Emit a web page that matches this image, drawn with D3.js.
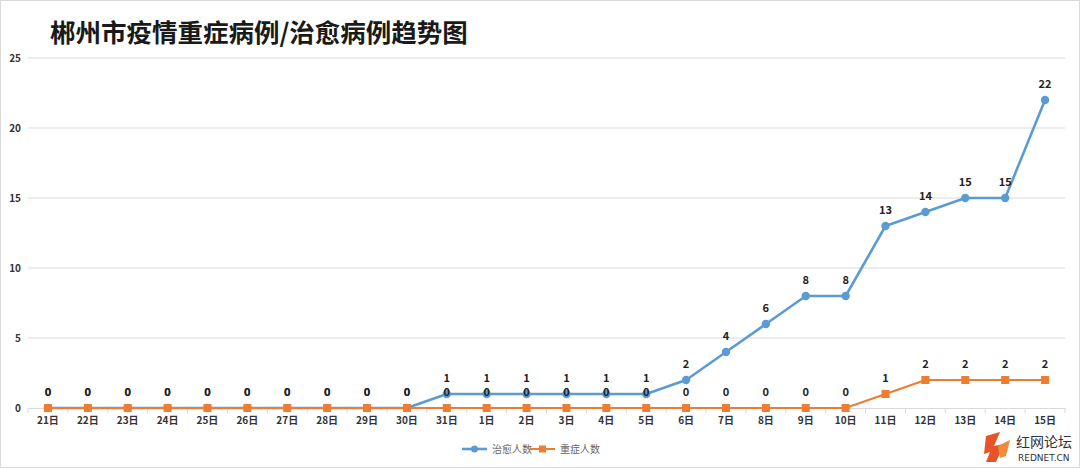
<!DOCTYPE html>
<html><head><meta charset="utf-8">
<script src="https://cdn.jsdelivr.net/npm/d3@7"></script>
<style>
body{margin:0;background:#fff;}
svg{display:block;}
</style></head>
<body>
<svg id="chart" width="1080" height="468"></svg>
<script>
const title = "郴州市疫情重症病例/治愈病例趋势图";
const categories = ["21日","22日","23日","24日","25日","26日","27日","28日","29日","30日","31日","1日","2日","3日","4日","5日","6日","7日","8日","9日","10日","11日","12日","13日","14日","15日"];
const curedName = "治愈人数";
const severeName = "重症人数";
const cured = [0,0,0,0,0,0,0,0,0,0,1,1,1,1,1,1,2,4,6,8,8,13,14,15,15,22];
const severe = [0,0,0,0,0,0,0,0,0,0,0,0,0,0,0,0,0,0,0,0,0,1,2,2,2,2];
const yTicks = [0,5,10,15,20,25];

const svg = d3.select("#chart");
const W = 1080, H = 468;
const blue = "#5B9BD5", orange = "#ED7D31";
const font = "'Noto Sans CJK SC','Noto Sans',sans-serif";

svg.append("rect").attr("x",0.5).attr("y",0.5).attr("width",W-1).attr("height",H-1)
  .attr("fill","#fff").attr("stroke","#d9d9d9");

svg.append("text").attr("x",50).attr("y",42).text(title)
  .attr("font-family","'Noto Sans CJK SC',serif").attr("font-weight","bold")
  .attr("font-size",25.5).attr("fill","#1a1a1a");

const x = d3.scaleBand().domain(categories).range([28,1065]).padding(0);
const y = d3.scaleLinear().domain([0,25]).range([408,58]);
const cx = d => x(d) + x.bandwidth()/2;

// grid
svg.append("g").selectAll("line").data(yTicks.filter(d=>d>0)).join("line")
  .attr("x1",28).attr("x2",1065).attr("y1",d=>y(d)).attr("y2",d=>y(d))
  .attr("stroke","#d9d9d9").attr("stroke-width",1);

// y labels
svg.append("g").selectAll("text").data(yTicks).join("text")
  .attr("x",21).attr("y",d=>y(d)+4).attr("text-anchor","end")
  .attr("font-family",font).attr("font-weight","bold").attr("font-size",10).attr("fill","#333")
  .text(d=>d);

// x axis
const xAxis = d3.axisBottom(x).tickSize(0).tickPadding(9);
const gx = svg.append("g").attr("transform","translate(0,408)").call(xAxis);
gx.select(".domain").attr("stroke","#d9d9d9");
gx.selectAll("text").attr("font-family",font).attr("font-weight","bold").attr("font-size",10).attr("fill","#333");
// boundary ticks
svg.append("g").selectAll("line").data(categories.concat(["__end"])).join("line")
  .attr("x1",(d,i)=> i<categories.length ? x(d) : 1065)
  .attr("x2",(d,i)=> i<categories.length ? x(d) : 1065)
  .attr("y1",408).attr("y2",413).attr("stroke","#d9d9d9");

const line = d3.line().x((d,i)=>cx(categories[i])).y(d=>y(d));

// cured series
svg.append("path").datum(cured).attr("d",line).attr("fill","none")
  .attr("stroke",blue).attr("stroke-width",2.6).attr("stroke-linejoin","round");
svg.append("g").selectAll("circle").data(cured).join("circle")
  .attr("cx",(d,i)=>cx(categories[i])).attr("cy",d=>y(d)).attr("r",4.2).attr("fill",blue);

// severe series (drawn on top)
svg.append("path").datum(severe).attr("d",line).attr("fill","none")
  .attr("stroke",orange).attr("stroke-width",2.2);
svg.append("g").selectAll("rect").data(severe).join("rect")
  .attr("x",(d,i)=>cx(categories[i])-4).attr("y",d=>y(d)-4)
  .attr("width",8).attr("height",8).attr("fill",orange);

// labels
const labelStyle = sel => sel.attr("font-family",font).attr("font-weight","bold")
  .attr("font-size",11).attr("fill","#222").attr("text-anchor","middle");
svg.append("g").selectAll("text").data(severe).join("text")
  .attr("x",(d,i)=>cx(categories[i])).attr("y",d=>y(d)-12)
  .text(d=>d).call(labelStyle);
svg.append("g").selectAll("text").data(cured).join("text")
  .attr("x",(d,i)=>cx(categories[i])).attr("y",d=>y(d)-12)
  .text(d=>d).call(labelStyle);

// legend
const lg = svg.append("g").attr("font-family",font).attr("font-size",10).attr("fill","#666");
lg.append("line").attr("x1",462).attr("x2",487).attr("y1",449).attr("y2",449).attr("stroke",blue).attr("stroke-width",2.6);
lg.append("circle").attr("cx",474.5).attr("cy",449).attr("r",3.5).attr("fill",blue);
lg.append("text").attr("x",492).attr("y",453).text(curedName).attr("fill","#666");
lg.append("line").attr("x1",530).attr("x2",555).attr("y1",449).attr("y2",449).attr("stroke",orange).attr("stroke-width",2);
lg.append("rect").attr("x",539).attr("y",445.5).attr("width",7).attr("height",7).attr("fill",orange);
lg.append("text").attr("x",560).attr("y",453).text(severeName).attr("fill","#666");

// watermark
const wm = svg.append("g");
wm.append("path").attr("d","M986,436 L1000,432 L994,446 L1004,444 L996,462 L986,462 L990,452 L984,454 Z").attr("fill","#e8542a");
wm.append("path").attr("d","M998,446 L1010,440 L1006,456 L1000,458 Z").attr("fill","#f08a3c");
wm.append("text").attr("x",1016).attr("y",447).text("红网论坛")
  .attr("font-family",font).attr("font-size",14).attr("fill","#333");
wm.append("text").attr("x",1018).attr("y",461).text("REDNET.CN")
  .attr("font-family","'DejaVu Sans',sans-serif").attr("font-size",9).attr("fill","#333");
</script>
</body></html>
